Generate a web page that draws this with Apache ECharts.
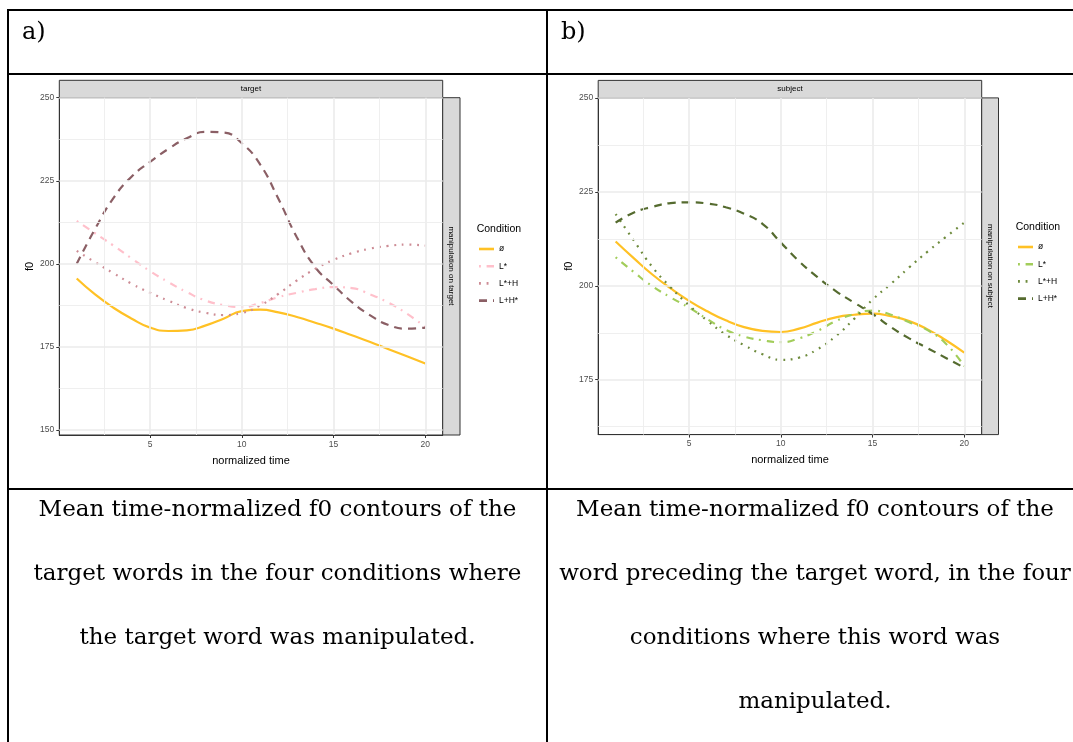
<!DOCTYPE html>
<html>
<head>
<meta charset="utf-8">
<script src="https://cdn.jsdelivr.net/npm/echarts@6/dist/echarts.min.js"></script>
<style>
  html, body { margin: 0; padding: 0; background: #fff; }
  #main { width: 1073px; height: 742px; }
</style>
</head>
<body>
<div id="main"></div>
<script>
// normalized time steps
var times = [1, 2, 3, 4, 5, 6, 7, 8, 9, 10, 11, 12, 13, 14, 15, 16, 17, 18, 19, 20];
var conditions = ['ø', 'L*', 'L*+H', 'L+H*'];

// a) target words (mean f0, Hz)
var targetNone   = [195.6, 190.8, 186.8, 183.5, 180.8, 179.8, 180.0, 181.4, 183.5, 185.8, 186.2, 185.4, 184.0, 182.3, 180.5, 178.5, 176.5, 174.3, 172.2, 170.0];
var targetLstar  = [212.9, 209.2, 205.5, 201.6, 197.8, 194.5, 191.5, 189.0, 187.6, 187.0, 188.2, 190.0, 191.3, 192.4, 193.0, 192.7, 190.8, 188.3, 185.0, 181.0];
var targetLstarH = [203.9, 200.5, 197.2, 194.0, 191.3, 188.9, 186.7, 185.3, 184.6, 185.2, 187.5, 191.0, 195.0, 198.5, 201.2, 203.2, 204.6, 205.4, 205.8, 205.5];
var targetLHstar = [200.0, 210.5, 219.8, 226.3, 230.7, 234.6, 237.8, 239.7, 239.5, 236.3, 229.9, 219.5, 208.0, 199.0, 193.6, 188.5, 184.5, 181.6, 180.5, 180.8];

// b) word preceding the target (mean f0, Hz)
var subjectNone   = [211.8, 207.3, 203.0, 199.3, 196.0, 193.2, 190.8, 189.0, 188.0, 187.7, 188.6, 190.2, 191.6, 192.3, 192.6, 191.9, 190.6, 188.4, 185.5, 182.2];
var subjectLstar  = [207.6, 203.6, 199.9, 196.9, 194.2, 191.1, 188.3, 186.5, 185.5, 185.0, 186.0, 188.0, 190.6, 192.5, 193.4, 192.3, 190.3, 188.2, 184.6, 178.6];
var subjectLstarH = [219.1, 212.0, 205.0, 199.6, 194.8, 190.7, 187.0, 184.2, 181.8, 180.3, 180.9, 183.1, 186.6, 191.2, 196.3, 200.5, 204.9, 209.1, 213.0, 216.8];
var subjectLHstar = [216.8, 219.5, 221.0, 222.0, 222.2, 221.9, 220.9, 219.2, 216.5, 211.5, 206.5, 202.3, 198.6, 195.5, 192.5, 189.0, 186.0, 183.4, 180.8, 178.2];

// ticks
var xMajor = [5, 10, 15, 20];
var xMinor = [2.5, 7.5, 12.5, 17.5];
var yMajorA = [150, 175, 200, 225, 250];
var yMajorB = [175, 200, 225, 250];
var yMinor = [162.5, 187.5, 212.5, 237.5];

var captionA = ['Mean time-normalized f0 contours of the', 'target words in the four conditions where', 'the target word was manipulated.'];
var captionB = ['Mean time-normalized f0 contours of the', 'word preceding the target word, in the four', 'conditions where this word was', 'manipulated.'];

var sans = 'Liberation Sans';
var serif = 'DejaVu Serif';

var colorsA = ['#FFC125', '#FFC0CB', '#CD8C95', '#8B5F65'];
var colorsB = ['#FFC125', '#A2CD5A', '#6E8B3D', '#556B2F'];
var dashes = ['solid', [1.9, 5.7, 7.6, 5.7], [1.9, 5.7], [8, 6]];

var dom = document.getElementById('main');
var myChart = echarts.init(dom);

function curve(prefix, cond, idx, values, color, dash) {
    return {
        name: prefix + cond,
        type: 'line',
        xAxisIndex: idx,
        yAxisIndex: idx,
        data: times.map(function (t, i) { return [t, values[i]]; }),
        smooth: true,
        symbol: 'none',
        z: 3,
        lineStyle: { color: color, width: 2.2, type: dash },
        itemStyle: { color: color }
    };
}

function gridLines(idx, yMajor) {
    var major = { color: '#EBEBEB', width: 1.6, type: 'solid' };
    var minor = { color: '#EDEDED', width: 0.9, type: 'solid' };
    var d = [];
    xMajor.forEach(function (v) { d.push({ xAxis: v, lineStyle: major }); });
    xMinor.forEach(function (v) { d.push({ xAxis: v, lineStyle: minor }); });
    yMajor.forEach(function (v) { d.push({ yAxis: v, lineStyle: major }); });
    yMinor.forEach(function (v) { d.push({ yAxis: v, lineStyle: minor }); });
    return {
        type: 'line', xAxisIndex: idx, yAxisIndex: idx, data: [], z: 1, silent: true,
        markLine: { silent: true, symbol: ['none', 'none'], label: { show: false }, animation: false, data: d }
    };
}

function xAxisCfg(idx) {
    return {
        type: 'value', gridIndex: idx, min: 0.05, max: 20.95,
        splitLine: { show: false },
        axisLine: { show: true, onZero: false, lineStyle: { color: '#333333', width: 1 } },
        axisTick: { show: true, length: 3, lineStyle: { color: '#333333' }, customValues: xMajor },
        axisLabel: { customValues: xMajor, color: '#4D4D4D', fontSize: 8.5, margin: 5, fontFamily: sans },
        name: 'normalized time', nameLocation: 'middle', nameGap: 20,
        nameTextStyle: { color: '#000', fontSize: 11, fontFamily: sans }
    };
}

function yAxisCfg(idx, min, ticks) {
    return {
        type: 'value', gridIndex: idx, min: min, max: 250,
        splitLine: { show: false },
        axisLine: { show: true, lineStyle: { color: '#333333', width: 1 } },
        axisTick: { show: true, length: 3, lineStyle: { color: '#333333' }, customValues: ticks },
        axisLabel: { customValues: ticks, color: '#4D4D4D', fontSize: 8.5, margin: 5, fontFamily: sans },
        name: 'f0', nameLocation: 'middle', nameGap: 24,
        nameTextStyle: { color: '#000', fontSize: 11, fontFamily: sans }
    };
}

function legendCfg(prefix, left, top) {
    return {
        data: conditions.map(function (c) { return prefix + c; }),
        orient: 'vertical', left: left, top: top, padding: 0,
        itemWidth: 15, itemHeight: 10, itemGap: 8.2,
        selectedMode: false,
        itemStyle: { opacity: 0 },
        lineStyle: { width: 2.6 },
        formatter: function (n) { return n.slice(2); },
        textStyle: { color: '#000', fontSize: 8.5, fontFamily: sans }
    };
}

function txt(x, y, s, font, align, rot) {
    return {
        type: 'text', x: x, y: y, rotation: rot || 0, z: 10,
        style: { text: s, x: 0, y: 0, font: font, fill: '#000', align: align || 'center', verticalAlign: 'middle' }
    };
}
function hline(x1, x2, y, w) {
    return { type: 'line', z: 10, shape: { x1: x1, y1: y, x2: x2, y2: y }, style: { stroke: '#000', lineWidth: w } };
}
function vline(x, y1, y2, w) {
    return { type: 'line', z: 10, shape: { x1: x, y1: y1, x2: x, y2: y2 }, style: { stroke: '#000', lineWidth: w } };
}
function strip(x, y, w, h) {
    return { type: 'rect', z: 5, shape: { x: x, y: y, width: w, height: h }, style: { fill: '#D9D9D9', stroke: '#333333', lineWidth: 1 } };
}

var graphics = [
    hline(7, 1073, 10, 2), hline(7, 1073, 74, 2), hline(7, 1073, 489, 2),
    vline(8, 9, 742, 2), vline(547, 9, 742, 2),
    txt(22, 33, 'a)', '24px "' + serif + '"', 'left'),
    txt(561, 33, 'b)', '24px "' + serif + '"', 'left'),
    strip(59.3, 80.3, 383.4, 17.4), strip(442.7, 97.7, 17.3, 337.3),
    txt(251, 89, 'target', '8px "' + sans + '"'),
    txt(451.3, 266, 'manipulation on target', '8px "' + sans + '"', 'center', -Math.PI / 2),
    strip(598.2, 80.4, 383.5, 17.5), strip(981.7, 97.9, 16.8, 336.7),
    txt(790, 89, 'subject', '8px "' + sans + '"'),
    txt(990.1, 266, 'manipulation on subject', '8px "' + sans + '"', 'center', -Math.PI / 2),
    txt(476.7, 229, 'Condition', '10.5px "' + sans + '"', 'left'),
    txt(1015.7, 227.5, 'Condition', '10.5px "' + sans + '"', 'left')
];
captionA.forEach(function (s, i) { graphics.push(txt(277.5, 510 + i * 64, s, '23px "' + serif + '"')); });
captionB.forEach(function (s, i) { graphics.push(txt(815, 510 + i * 64, s, '23px "' + serif + '"')); });

var seriesA = [targetNone, targetLstar, targetLstarH, targetLHstar];
var seriesB = [subjectNone, subjectLstar, subjectLstarH, subjectLHstar];
var series = [gridLines(0, yMajorA), gridLines(1, yMajorB)];
conditions.forEach(function (c, i) { series.push(curve('a:', c, 0, seriesA[i], colorsA[i], dashes[i])); });
conditions.forEach(function (c, i) { series.push(curve('b:', c, 1, seriesB[i], colorsB[i], dashes[i])); });

var option = {
    animation: false,
    backgroundColor: '#fff',
    grid: [
        { left: 59.3, top: 97.7, width: 383.4, height: 337.3, show: true, borderColor: '#333333', borderWidth: 1, backgroundColor: '#fff' },
        { left: 598.2, top: 97.9, width: 383.5, height: 336.7, show: true, borderColor: '#333333', borderWidth: 1, backgroundColor: '#fff' }
    ],
    xAxis: [xAxisCfg(0), xAxisCfg(1)],
    yAxis: [yAxisCfg(0, 148.5, yMajorA), yAxisCfg(1, 160.4, yMajorB)],
    legend: [legendCfg('a:', 477.7, 244.5), legendCfg('b:', 1016.7, 242.5)],
    graphic: graphics,
    series: series
};

if (option && typeof option === "object") {
    myChart.setOption(option, true);
}
</script>
</body>
</html>
